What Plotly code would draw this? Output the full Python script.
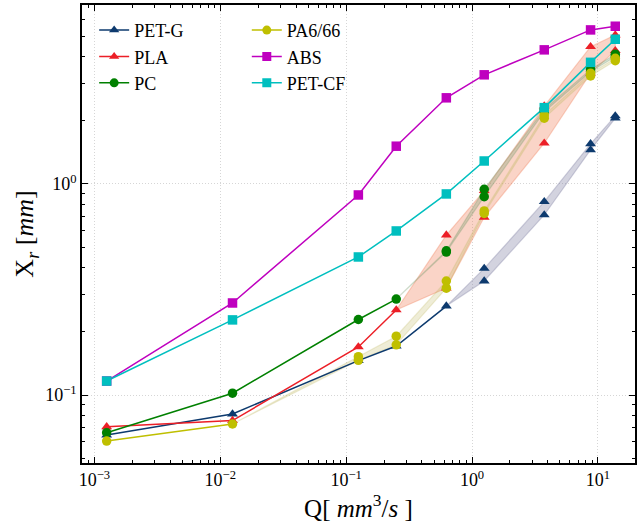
import plotly.graph_objects as go

# Volumetric flow rate Q [mm^3/s]
Q = [0.00125, 0.0125, 0.125, 0.25, 0.625, 1.25, 3.75, 8.75, 13.75]

materials = ["PET-G", "PLA", "PC", "PA6/66", "ABS", "PET-CF"]

# Two measurement runs per material (X_r in mm); runs coincide at low Q
petg_a = [0.0646, 0.0813, 0.1455, 0.1707, 0.264, 0.398, 0.824, 1.55, 2.10]
petg_b = [0.0646, 0.0813, 0.1455, 0.1707, 0.264, 0.347, 0.713, 1.45, 2.05]

pla_a = [0.0707, 0.0757, 0.169, 0.253, 0.573, 0.93, 2.34, 4.47, 5.08]
pla_b = [0.0707, 0.0757, 0.169, 0.253, 0.321, 0.695, 1.56, 3.35, 4.28]

pc_a = [0.0663, 0.102, 0.228, 0.285, 0.482, 0.944, 2.26, 3.49, 4.12]
pc_b = [0.0663, 0.102, 0.228, 0.285, 0.476, 0.871, 2.20, 3.40, 4.01]

pa_a = [0.0605, 0.0729, 0.152, 0.190, 0.347, 0.745, 2.12, 3.35, 3.94]
pa_b = [0.0605, 0.0729, 0.146, 0.173, 0.321, 0.725, 2.05, 3.25, 3.84]

abs_a = [0.1165, 0.273, 0.887, 1.51, 2.56, 3.29, 4.32, 5.37, 5.59]
abs_b = abs_a

petcf_a = [0.1165, 0.227, 0.451, 0.599, 0.897, 1.285, 2.30, 3.77, 4.85]
petcf_b = petcf_a

# Axis ticks
x_tickvals = [1e-3, 1e-2, 1e-1, 1e0, 1e1]
x_ticktext = ["10<sup>\u22123</sup>", "10<sup>\u22122</sup>", "10<sup>\u22121</sup>",
              "10<sup>0</sup>", "10<sup>1</sup>"]
y_tickvals = [1e-1, 1e0]
y_ticktext = ["10<sup>\u22121</sup>", "10<sup>0</sup>"]

runs = [(petg_a, petg_b), (pla_a, pla_b), (pc_a, pc_b),
        (pa_a, pa_b), (abs_a, abs_b), (petcf_a, petcf_b)]

colors = ["#0d3a6e", "#ec1f27", "#008000", "#bfbf00", "#bf00bf", "#00bfbf"]
band_colors = ["rgba(125,125,160,0.34)", "rgba(238,120,80,0.32)",
               "rgba(120,155,110,0.30)", "rgba(195,185,100,0.26)", None, None]
symbols = ["triangle-up", "triangle-up", "circle", "circle", "square", "square"]

SERIF = "Liberation Serif"

fig = go.Figure()


def split_index(a, b):
    """Index of the last shared point before the runs diverge (None if never)."""
    for i, (u, v) in enumerate(zip(a, b)):
        if u != v:
            return max(i - 1, 0)
    return None


starts = [split_index(a, b) for a, b in runs]

# spread bands between the two runs
for (a, b), s, bc in zip(runs, starts, band_colors):
    if s is None or bc is None:
        continue
    xs = Q[s:] + Q[s:][::-1]
    ys = a[s:] + b[s:][::-1]
    fig.add_trace(go.Scatter(x=xs, y=ys, mode="lines", fill="toself",
                             fillcolor=bc, line=dict(color=bc, width=1.2),
                             hoverinfo="skip", showlegend=False))

# shared lines
for (a, b), s, c in zip(runs, starts, colors):
    end = len(Q) if s is None else s + 1
    fig.add_trace(go.Scatter(x=Q[:end], y=a[:end], mode="lines",
                             line=dict(color=c, width=1.5),
                             showlegend=False, hoverinfo="skip"))

# measured points of both runs
for (a, b), c, sym in zip(runs, colors, symbols):
    xs, ys = [], []
    for q, u, v in zip(Q, a, b):
        xs.append(q); ys.append(u)
        if v != u:
            xs.append(q); ys.append(v)
    fig.add_trace(go.Scatter(x=xs, y=ys, mode="markers",
                             marker=dict(color=c, symbol=sym, size=9.5,
                                         line=dict(width=0)),
                             showlegend=False))

# legend entries, two columns
for i, (name, c, sym) in enumerate(zip(materials, colors, symbols)):
    fig.add_trace(go.Scatter(x=[None], y=[None], mode="lines+markers", name=name,
                             line=dict(color=c, width=1.5),
                             marker=dict(color=c, symbol=sym, size=9),
                             legend="legend" if i < 3 else "legend2"))

axis_common = dict(
    type="log",
    showline=True, linecolor="black", linewidth=1.5, mirror="allticks",
    ticks="inside", ticklen=6, tickwidth=1, tickcolor="black",
    showgrid=True, gridcolor="#d6d6d6", griddash="1px,2px", gridwidth=1,
    zeroline=False,
    tickfont=dict(family=SERIF, size=18, color="black"),
    minor=dict(ticks="inside", ticklen=3, tickwidth=1, tickcolor="black",
               dtick="D1", showgrid=False),
)

fig.update_xaxes(**axis_common, range=[-3.099, 1.295],
                 tickmode="array", tickvals=x_tickvals, ticktext=x_ticktext,
                 title=dict(text="Q[ <i>mm</i><sup>3</sup>/<i>s</i> ]",
                            font=dict(family=SERIF, size=25, color="black"),
                            standoff=6))
fig.update_yaxes(**axis_common, range=[-1.322, 0.848],
                 tickmode="array", tickvals=y_tickvals, ticktext=y_ticktext,
                 title=dict(text="X<sub><i>r</i></sub> [<i>mm</i>]",
                            font=dict(family=SERIF, size=26, color="black"),
                            standoff=4))

legend_common = dict(font=dict(family=SERIF, size=18, color="black"),
                     bgcolor="rgba(255,255,255,0)", borderwidth=0,
                     xanchor="left", yanchor="top", y=0.985)

fig.update_layout(
    width=639, height=530,
    margin=dict(l=82, r=2, t=5, b=67),
    paper_bgcolor="white", plot_bgcolor="white",
    legend=dict(**legend_common, x=0.022),
    legend2=dict(**legend_common, x=0.298),
)

fig.write_html("out.html")
